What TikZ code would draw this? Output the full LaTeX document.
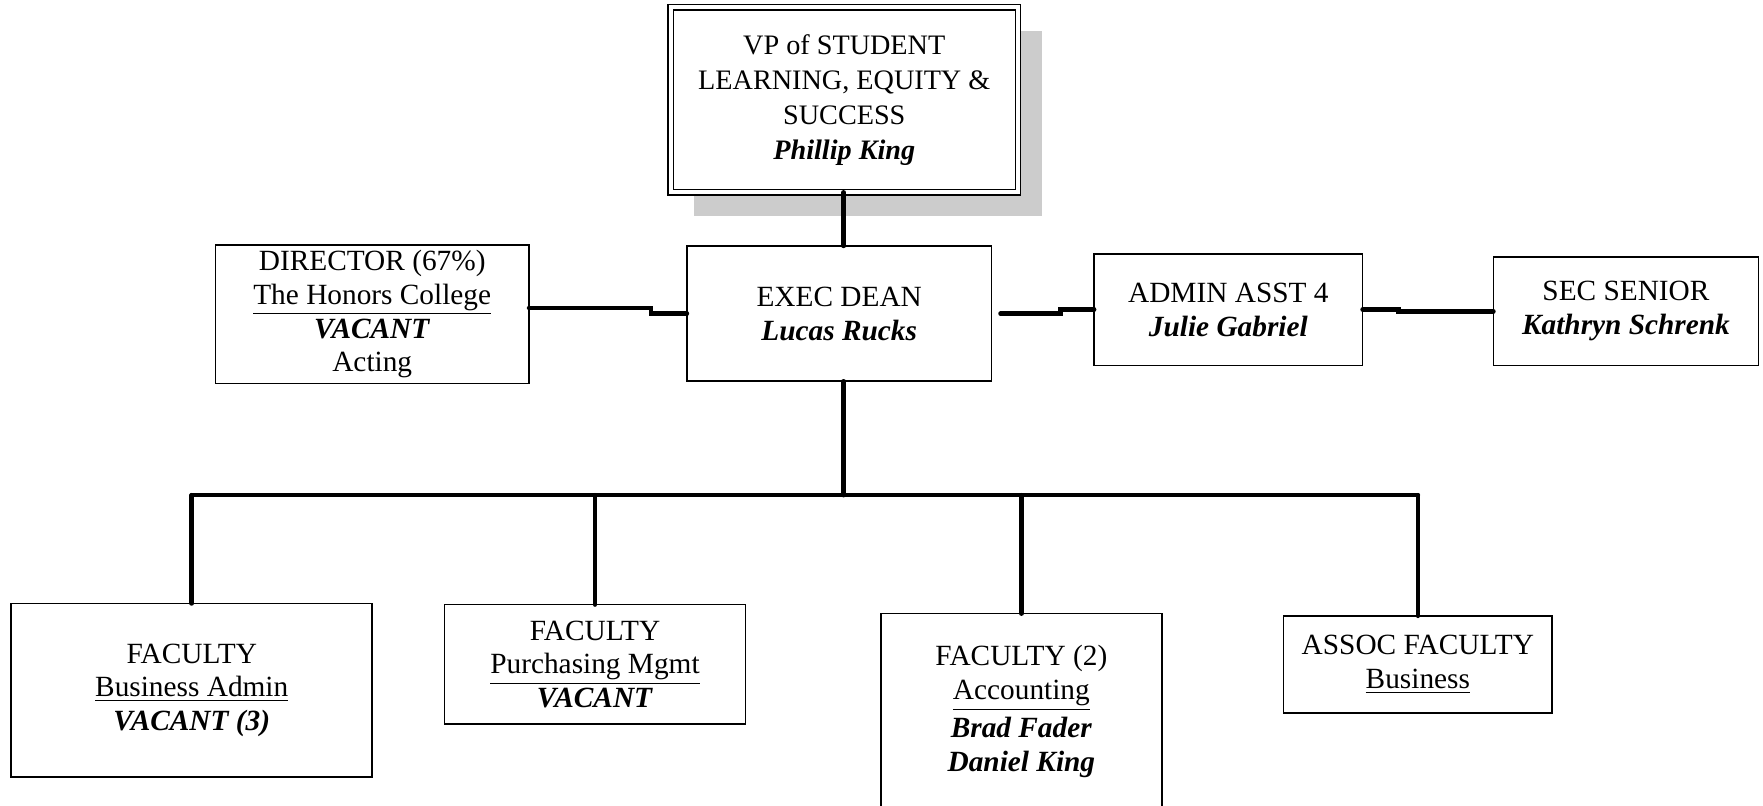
\documentclass[tikz,border=0pt]{standalone}
\usepackage{fontspec}
\setmainfont{Liberation Serif}
\usetikzlibrary{shadows}
\newcommand{\who}[1]{\textbf{\textit{#1}}}

\begin{document}
\begin{tikzpicture}[x=0.5pt,y=-0.5pt,
  box/.style={draw,line width=0.75pt,inner sep=0pt,outer sep=0pt,align=center,
    font=\fontsize{13}{15}\selectfont},
  conn/.style={line width=2pt,line cap=round}]
      \useasboundingbox (0,0) rectangle (1563,714);
      \clip (0,0) rectangle (1563,714);
      \node[box,fill=white,double,double distance=1.8pt,line width=0.6pt,
	minimum width=154pt,minimum height=82pt,
	general shadow={fill=black!20,shadow xshift=10.5pt,shadow yshift=-10.5pt},
	font=\fontsize{12.5}{15.5}\selectfont] (vp) at (748.5,88.5)
	{VP of STUDENT\\LEARNING, EQUITY \&\\SUCCESS\\\who{Phillip King}};
      \node[box,minimum width=135pt,minimum height=60pt] (dean) at (744,278)
	{EXEC DEAN\\\who{Lucas Rucks}};
      \node[box,minimum width=139pt,minimum height=61.5pt] (dir) at (330,278.5)
	{DIRECTOR (67\%)\\\underline{The Honors College}\\\who{VACANT}\\Acting};
      \node[box,minimum width=119pt,minimum height=49.5pt] (asst) at (1089,274.5)
	{ADMIN ASST 4\\\who{Julie Gabriel}};
      \node[box,minimum width=117.5pt,minimum height=48pt] (sec) at (1441.5,276)
	{SEC SENIOR\\\who{Kathryn Schrenk}};
      \node[box,minimum width=160pt,minimum height=77pt] (fba) at (170,612)
	{FACULTY\\\underline{Business Admin}\\\who{VACANT (3)}};
      \node[box,minimum width=133.5pt,minimum height=53pt] (fpm) at (527.5,589)
	{FACULTY\\\underline{Purchasing Mgmt}\\\who{VACANT}};
      \node[box,minimum width=124.5pt,minimum height=87pt] (fac) at (905.5,631)
	{FACULTY (2)\\\underline{Accounting}\\[2pt]\who{Brad Fader}\\\who{Daniel King}};
      \node[box,minimum width=119pt,minimum height=43pt] (afb) at (1257,589)
	{ASSOC FACULTY\\\underline{Business}};
      \coordinate (bus) at (748,439);
      \draw[conn] (vp.south -| bus) -- (dean.north -| bus);
      \draw[conn] (dean.south -| bus) -- (bus);
      \draw[conn] (fba.north |- bus) -- (afb.north |- bus);
      \foreach \n in {fba,fpm,fac,afb} {
	\draw[conn] (\n.north |- bus) -- (\n.north);
      };
      \draw[conn] ([yshift=2.75pt]dir.east) -- ++(108,0) |- (dean.west);
      \draw[conn] ([xshift=4pt]dean.east) -- ++(53,0) |- (asst.west);
      \draw[conn] (asst.east) -- ++(32,0) |- (sec.west);
    \end{tikzpicture}
\end{document}
